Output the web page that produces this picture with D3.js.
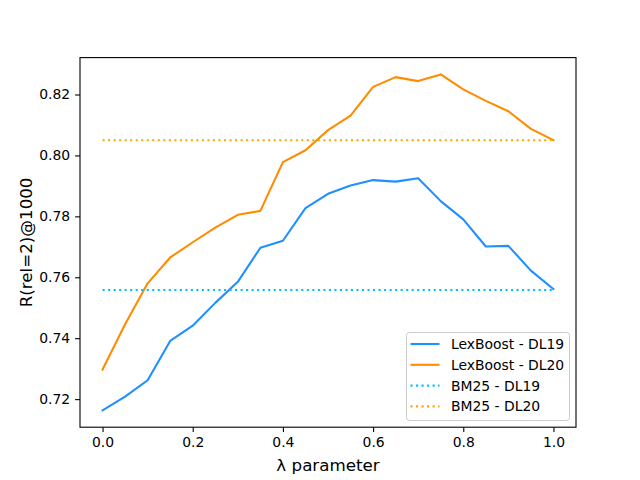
<!DOCTYPE html>
<html>
<head>
<meta charset="utf-8">
<script src="https://cdn.jsdelivr.net/npm/d3@7"></script>
<style>
  body { margin: 0; background: #fff; }
  text { font-family: "DejaVu Sans", sans-serif; fill: #000; }
  .tick text { font-size: 13.9px; }
  .axis-title { font-size: 16.7px; }
  .legend-label { font-size: 13.9px; }
</style>
</head>
<body>
<svg id="chart" width="640" height="480"></svg>
<script>
// lambda values on the x axis
var lambdas = [0.0, 0.05, 0.1, 0.15, 0.2, 0.25, 0.3, 0.35, 0.4, 0.45, 0.5,
  0.55, 0.6, 0.65, 0.7, 0.75, 0.8, 0.85, 0.9, 0.95, 1.0];

var lexBoostDL19 = [0.7163, 0.7208, 0.7262, 0.7391, 0.7441, 0.7516, 0.7585,
  0.7697, 0.7720, 0.7827, 0.7874, 0.7901, 0.7919, 0.7914, 0.7925, 0.7850,
  0.7790, 0.7701, 0.7703, 0.7622, 0.7561];
var lexBoostDL20 = [0.7297, 0.7446, 0.7580, 0.7665, 0.7715, 0.7763, 0.7805,
  0.7818, 0.7978, 0.8017, 0.8083, 0.8131, 0.8225, 0.8257, 0.8244, 0.8266,
  0.8217, 0.8179, 0.8145, 0.8087, 0.8050];

// flat baselines
var bm25DL19 = 0.7558;
var bm25DL20 = 0.8050;

var xTicks = [0.0, 0.2, 0.4, 0.6, 0.8, 1.0];
var yTicks = [0.72, 0.74, 0.76, 0.78, 0.80, 0.82];

var seriesNames = ['LexBoost - DL19', 'LexBoost - DL20', 'BM25 - DL19', 'BM25 - DL20'];

var svg = d3.select('#chart');

var plotLeft = 80, plotRight = 576, plotTop = 57.6, plotBottom = 427.2;

var xScale = d3.scaleLinear().domain([-0.05, 1.05]).range([plotLeft, plotRight]);

// same 5% padding matplotlib adds around the data
var allValues = lexBoostDL19.concat(lexBoostDL20, [bm25DL19, bm25DL20]);
var yMin = d3.min(allValues), yMax = d3.max(allValues);
var pad = (yMax - yMin) * 0.05;
var yScale = d3.scaleLinear().domain([yMin - pad, yMax + pad]).range([plotBottom, plotTop]);

var series = [
  { name: seriesNames[0], color: '#1e90ff', dash: null,
    values: lambdas.map(function(l, i) { return { x: l, y: lexBoostDL19[i] }; }) },
  { name: seriesNames[1], color: '#ff8c00', dash: null,
    values: lambdas.map(function(l, i) { return { x: l, y: lexBoostDL20[i] }; }) },
  { name: seriesNames[2], color: '#00bfff', dash: '2.08,3.44',
    values: lambdas.map(function(l) { return { x: l, y: bm25DL19 }; }) },
  { name: seriesNames[3], color: '#ffa500', dash: '2.08,3.44',
    values: lambdas.map(function(l) { return { x: l, y: bm25DL20 }; }) }
];

var line = d3.line()
  .x(function(d) { return xScale(d.x); })
  .y(function(d) { return yScale(d.y); });

svg.append('g')
  .selectAll('path')
  .data(series)
  .enter()
  .append('path')
  .attr('d', function(d) { return line(d.values); })
  .attr('fill', 'none')
  .attr('stroke', function(d) { return d.color; })
  .attr('stroke-width', 2.08)
  .attr('stroke-dasharray', function(d) { return d.dash; })
  .attr('stroke-linejoin', 'round')
  .attr('stroke-linecap', function(d) { return d.dash ? 'butt' : 'square'; });

// axes
var xAxis = d3.axisBottom(xScale).tickValues(xTicks).tickSize(4.9).tickPadding(4.9)
  .tickFormat(d3.format('.1f'));
var yAxis = d3.axisLeft(yScale).tickValues(yTicks).tickSize(4.9).tickPadding(4.9)
  .tickFormat(d3.format('.2f'));

svg.append('g')
  .attr('transform', 'translate(0,' + plotBottom + ')')
  .call(xAxis)
  .call(function(g) { g.select('.domain').remove(); });

svg.append('g')
  .attr('transform', 'translate(' + plotLeft + ',0)')
  .call(yAxis)
  .call(function(g) { g.select('.domain').remove(); });

svg.selectAll('.tick line').attr('stroke', '#000').attr('stroke-width', 1.1);
svg.selectAll('.tick text').attr('fill', '#000');

// frame
svg.append('rect')
  .attr('x', plotLeft)
  .attr('y', plotTop)
  .attr('width', plotRight - plotLeft)
  .attr('height', plotBottom - plotTop)
  .attr('fill', 'none')
  .attr('stroke', '#000')
  .attr('stroke-width', 1.1);

// axis titles
svg.append('text')
  .attr('class', 'axis-title')
  .attr('x', (plotLeft + plotRight) / 2)
  .attr('y', 471)
  .attr('text-anchor', 'middle')
  .text('λ parameter');

svg.append('text')
  .attr('class', 'axis-title')
  .attr('transform', 'rotate(-90)')
  .attr('x', -(plotTop + plotBottom) / 2)
  .attr('y', 32)
  .attr('text-anchor', 'middle')
  .text('R(rel=2)@1000');

// legend
var legend = svg.append('g').attr('transform', 'translate(406.5,332.5)');

legend.append('rect')
  .attr('width', 163)
  .attr('height', 88)
  .attr('rx', 3)
  .attr('fill', '#fff')
  .attr('fill-opacity', 0.8)
  .attr('stroke', '#cccccc')
  .attr('stroke-width', 1);

var rows = legend.selectAll('g.row')
  .data(series)
  .enter()
  .append('g')
  .attr('class', 'row')
  .attr('transform', function(d, i) { return 'translate(0,' + (11.5 + i * 20.8) + ')'; });

rows.append('line')
  .attr('x1', 4)
  .attr('x2', 33)
  .attr('stroke', function(d) { return d.color; })
  .attr('stroke-width', 2.08)
  .attr('stroke-dasharray', function(d) { return d.dash; });

rows.append('text')
  .attr('class', 'legend-label')
  .attr('x', 44.5)
  .attr('y', 5)
  .text(function(d) { return d.name; });
</script>
</body>
</html>
